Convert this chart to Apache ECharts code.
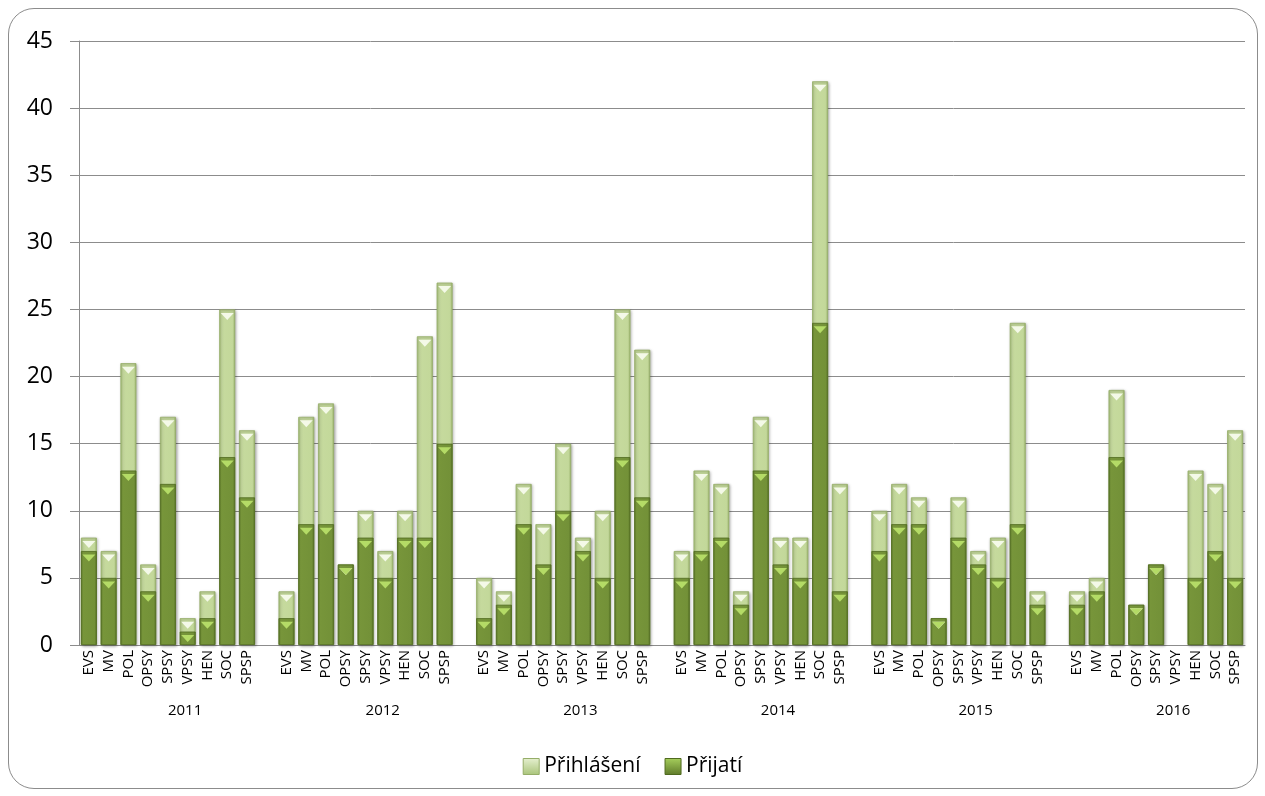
<!DOCTYPE html>
<html><head><meta charset="utf-8">
<script src="https://cdn.jsdelivr.net/npm/echarts@6/dist/echarts.min.js"></script>
<style>
html,body{margin:0;padding:0;background:#fff;}
#frame{position:absolute;left:8px;top:8px;width:1248px;height:779px;border:1.5px solid #8c8c8c;border-radius:26px;}
#chart{position:absolute;left:0;top:0;width:1265px;height:796px;}
</style></head>
<body>
<div id="frame"></div>
<div id="chart"></div>
<script>
const programs = ['EVS','MV','POL','OPSY','SPSY','VPSY','HEN','SOC','SPSP'];
const years = ['2011','2012','2013','2014','2015','2016'];
const yTicks = [0,5,10,15,20,25,30,35,40,45];
// Přihlášení (applicants) per year, in program order
const applied2011 = [8,7,21,6,17,2,4,25,16];
const applied2012 = [4,17,18,6,10,7,10,23,27];
const applied2013 = [5,4,12,9,15,8,10,25,22];
const applied2014 = [7,13,12,4,17,8,8,42,12];
const applied2015 = [10,12,11,2,11,7,8,24,4];
const applied2016 = [4,5,19,3,6,0,13,12,16];
// Přijatí (accepted) per year
const accepted2011 = [7,5,13,4,12,1,2,14,11];
const accepted2012 = [2,9,9,6,8,5,8,8,15];
const accepted2013 = [2,3,9,6,10,7,5,14,11];
const accepted2014 = [5,7,8,3,13,6,5,24,4];
const accepted2015 = [7,9,9,2,8,6,5,9,3];
const accepted2016 = [3,4,14,3,6,0,5,7,5];

const appliedAll = [applied2011,applied2012,applied2013,applied2014,applied2015,applied2016];
const acceptedAll = [accepted2011,accepted2012,accepted2013,accepted2014,accepted2015,accepted2016];

// build flat category axis with an empty slot between years
const cats = [], yearLabels = [], appData = [], accData = [];
years.forEach((y, yi) => {
  programs.forEach((p, pi) => {
    cats.push(p);
    yearLabels.push(pi === 4 ? y : '');
    appData.push(appliedAll[yi][pi] || null);
    accData.push(acceptedAll[yi][pi] || null);
  });
  if (yi < years.length - 1) { cats.push(''); yearLabels.push(''); appData.push(null); accData.push(null); }
});

const font = '"Open Sans", "Liberation Sans", sans-serif';
const lightGrad = new echarts.graphic.LinearGradient(0,0,1,0,[
  {offset:0,color:'#a9c47a'},{offset:0.15,color:'#c6da9e'},{offset:0.85,color:'#c3d89a'},{offset:1,color:'#9fb96d'}]);
const darkGrad = new echarts.graphic.LinearGradient(0,0,1,0,[
  {offset:0,color:'#5a7428'},{offset:0.15,color:'#77953a'},{offset:0.85,color:'#739138'},{offset:1,color:'#566f25'}]);
const lightIcon = new echarts.graphic.LinearGradient(0,0,0,1,[{offset:0,color:'#e6f0d0'},{offset:1,color:'#a9c47a'}]);
const darkIcon = new echarts.graphic.LinearGradient(0,0,0,1,[{offset:0,color:'#a6cf5c'},{offset:1,color:'#5f7a2a'}]);

const chart = echarts.init(document.getElementById('chart'), null, {renderer:'canvas'});
chart.setOption({
  animation:false,
  grid:{left:79,right:20,top:41,bottom:151,containLabel:false},
  legend:{
    top:751,left:'center',itemWidth:16,itemHeight:16,itemGap:24,
    textStyle:{fontFamily:font,fontSize:21,color:'#000'},
    data:[{name:'Přihlášení',icon:'rect',itemStyle:{color:lightIcon,borderColor:'#95ad68',borderWidth:1}},
          {name:'Přijatí',icon:'rect',itemStyle:{color:darkIcon,borderColor:'#4f6a1f',borderWidth:1}}]
  },
  xAxis:[{
    type:'category',data:cats,position:'bottom',
    axisLine:{show:true,lineStyle:{color:'#8c8c8c',width:1}},
    axisTick:{show:false},
    axisLabel:{interval:0,rotate:90,margin:5,fontFamily:font,fontSize:15,color:'#000'}
  },{
    type:'category',data:yearLabels,position:'bottom',offset:56,
    axisLine:{show:false},axisTick:{show:false},
    axisLabel:{interval:0,margin:2,align:'left',fontFamily:font,fontSize:15,color:'#000'}
  }],
  yAxis:{
    type:'value',min:0,max:45,interval:5,
    axisLine:{show:true,lineStyle:{color:'#8c8c8c',width:1}},
    axisTick:{show:true,length:9,inside:false,lineStyle:{color:'#8c8c8c'}},
    splitLine:{lineStyle:{color:'#8c8c8c',width:1}},
    axisLabel:{margin:26,fontFamily:font,fontSize:23,color:'#000',
      formatter:v=>yTicks.includes(v)?String(v):''}
  },
  series:[{
    name:'Přihlášení',type:'bar',data:appData,barWidth:16,barGap:'-100%',
    itemStyle:{color:lightGrad,borderColor:'#95ad68',borderWidth:0.8,
      shadowBlur:3,shadowColor:'rgba(0,0,0,0.35)',shadowOffsetX:1,shadowOffsetY:1},
    z:2
  },{
    name:'Přijatí',type:'bar',data:accData,barWidth:16,barGap:'-100%',
    itemStyle:{color:darkGrad,borderColor:'#4f6a1f',borderWidth:0.8},
    z:3
  },{
    name:'tri1',type:'pictorialBar',data:appData,symbol:'triangle',symbolRotate:180,
    symbolSize:[13,7],symbolPosition:'end',symbolOffset:[0,'50%'],barGap:'-100%',
    itemStyle:{color:'#f4f9e8'},z:4,silent:true,legendHoverLink:false
  },{
    name:'tri2',type:'pictorialBar',data:accData,symbol:'triangle',symbolRotate:180,
    symbolSize:[13,7],symbolPosition:'end',symbolOffset:[0,'50%'],barGap:'-100%',
    itemStyle:{color:'#b4db66'},z:5,silent:true,legendHoverLink:false
  }]
});
</script>
</body></html>
